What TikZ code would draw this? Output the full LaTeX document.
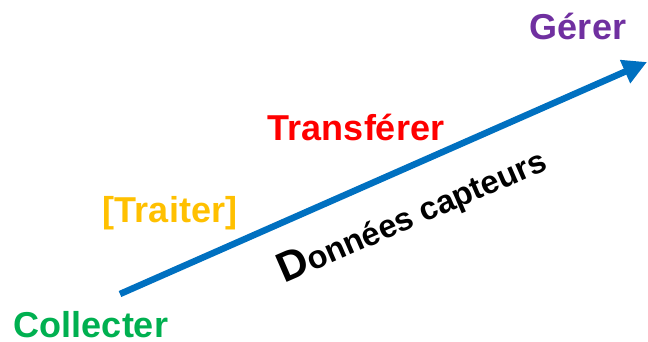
\documentclass[tikz,border=0pt]{standalone}
\usepackage{fontspec}
\setmainfont{Liberation Sans}
\usetikzlibrary{arrows.meta}
\definecolor{cpurple}{HTML}{7030A0}
\definecolor{cred}{HTML}{FF0000}
\definecolor{cyellow}{HTML}{FFC000}
\definecolor{cgreen}{HTML}{00B050}
\definecolor{cblue}{HTML}{0070C0}
\begin{document}
\begin{tikzpicture}[x=1pt,y=1pt,
  lbl/.style={font=\fontsize{36}{40}\selectfont\bfseries, inner sep=0pt},
  flow/.style={cblue, line width=6.5pt, -{Triangle[length=24pt,width=24pt]}}]
\useasboundingbox (0,0) rectangle (648,341);
\coordinate (s) at (120,47);
\coordinate (e) at (647,279);
\draw[flow] (s) -- (e);
\node[lbl, text=cpurple] (gerer) at (578,315) {Gérer};
\node[lbl, text=cred] (transferer) at (356,214) {Transférer};
\node[lbl, text=cyellow] (traiter) at (170,128) {[Traiter]};
\node[lbl, text=cgreen] (collecter) at (91,16) {Collecter};
\node[inner sep=0pt, anchor=base west, rotate=23.5, font=\bfseries] (donnees) at (284,57)
  {\fontsize{42}{44}\selectfont D\fontsize{32.5}{34}\selectfont onnées capteurs};
\end{tikzpicture}
\end{document}
